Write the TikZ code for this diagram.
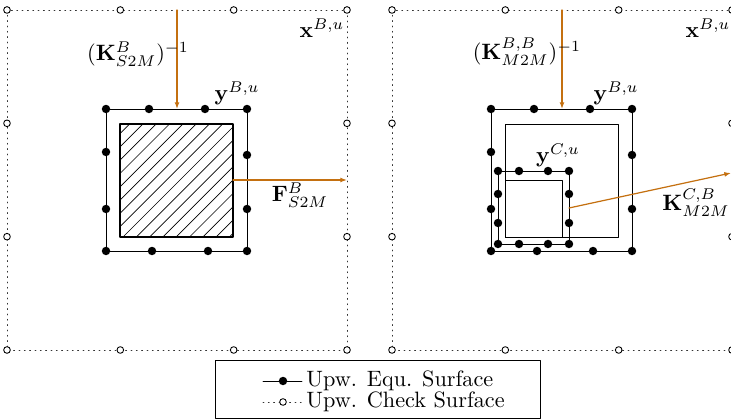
\documentclass[tikz,border=0pt]{standalone}
\usepackage{amsmath}
\usepackage{amssymb}
\usepackage{tikz}
\usetikzlibrary{arrows.meta}
\definecolor{flowcol}{RGB}{196,112,16}

\begin{document}
\begin{tikzpicture}[x=0.45pt,y=-0.45pt,line cap=round,line join=round]
\tikzset{
  chkline/.style={dotted,black!80},
  chkpt/.style={draw=black,fill=white,line width=0.4pt,solid},
  flow/.style={-{Latex[length=3pt,width=2.2pt]},color=flowcol,line width=0.55pt},
  lbl/.style={inner sep=1pt}
}
\useasboundingbox (0,0) rectangle (731,420);

% check and equivalent surfaces, both panels
\foreach \dx in {0,385}{
  \draw[chkline] (7+\dx,10) rectangle (347+\dx,350);
  \foreach \t in {7,120.3,233.7,347}{
    \draw[chkpt] (\t+\dx,10) circle (1.5pt);
    \draw[chkpt] (\t+\dx,350) circle (1.5pt);
  }
  \foreach \t in {123.3,236.7}{
    \draw[chkpt] (7+\dx,\t) circle (1.5pt);
    \draw[chkpt] (347+\dx,\t) circle (1.5pt);
  }
  \draw (106+\dx,109) rectangle (247+\dx,251);
  \foreach \t in {106,149,205,247} \fill (\t+\dx,109) circle (1.9pt);
  \foreach \t in {106,152,208,247} \fill (\t+\dx,251) circle (1.9pt);
  \foreach \t in {152,209} \fill (106+\dx,\t) circle (1.9pt);
  \foreach \t in {155,209} \fill (247+\dx,\t) circle (1.9pt);
}

% left box (hatched)
\begin{scope}
\clip (120,124) rectangle (233,237);
\foreach \s in {-9,...,9}
\draw[line width=0.3pt] (120+\s*13.3,240) -- ++(120,-120);
\end{scope}
\draw[line width=0.5pt] (120,124) rectangle (233,237);

% right box and child
\draw (505,124) rectangle (618,237);
\draw (505,180) rectangle (562,237);
\draw (498,171) rectangle (569,244);
\foreach \t in {498,519,548,569}{
  \fill (\t,171) circle (1.9pt);
  \fill (\t,244) circle (1.9pt);
}
\foreach \t in {194,223}{
  \fill (498,\t) circle (1.9pt);
  \fill (569,\t) circle (1.9pt);
}

% operators
\coordinate (ltop) at (177,10);
\coordinate (lequ) at (177,109);
\coordinate (lbox) at (233,180);
\coordinate (lchk) at (347,180);
\coordinate (rtop) at (562,10);
\coordinate (requ) at (562,109);
\coordinate (cequ) at (569,208);
\coordinate (rchk) at (731,173);
\draw[flow] (ltop) -- (lequ);
\draw[flow] (lbox) -- (lchk);
\draw[flow] (rtop) -- (requ);
\draw[flow] (cequ) -- (rchk);

% labels
\node[lbl] (xlabl) at (322,28) {$\mathbf{x}^{B,u}$};
\node[lbl] (ylabl) at (237,93) {$\mathbf{y}^{B,u}$};
\node[lbl] (klabl) at (138,54) {$(\mathbf{K}^{B}_{S2M})^{-1}$};
\node[lbl] (flabl) at (300,195) {$\mathbf{F}^{B}_{S2M}$};
\node[lbl] (xlabr) at (708,28) {$\mathbf{x}^{B,u}$};
\node[lbl] (ylabr) at (616,93) {$\mathbf{y}^{B,u}$};
\node[lbl] (yclab) at (558,155) {$\mathbf{y}^{C,u}$};
\node[lbl] (klabr) at (527,52) {$(\mathbf{K}^{B,B}_{M2M})^{-1}$};
\node[lbl] (kclab) at (696,203) {$\mathbf{K}^{C,B}_{M2M}$};

% legend
\draw (215,360) rectangle (540,418);
\coordinate (legaa) at (263,381);
\coordinate (legab) at (302,381);
\coordinate (legba) at (263,402);
\coordinate (legbb) at (302,402);
\draw (legaa) -- (legab);
\fill (283,381) circle (1.9pt);
\draw[chkline] (legba) -- (legbb);
\draw[chkpt] (283,402) circle (1.5pt);
\node[anchor=west,inner sep=0pt] (legequ) at (306,381) {Upw. Equ. Surface};
\node[anchor=west,inner sep=0pt] (legchk) at (306,402) {Upw. Check Surface};
\end{tikzpicture}
\end{document}
